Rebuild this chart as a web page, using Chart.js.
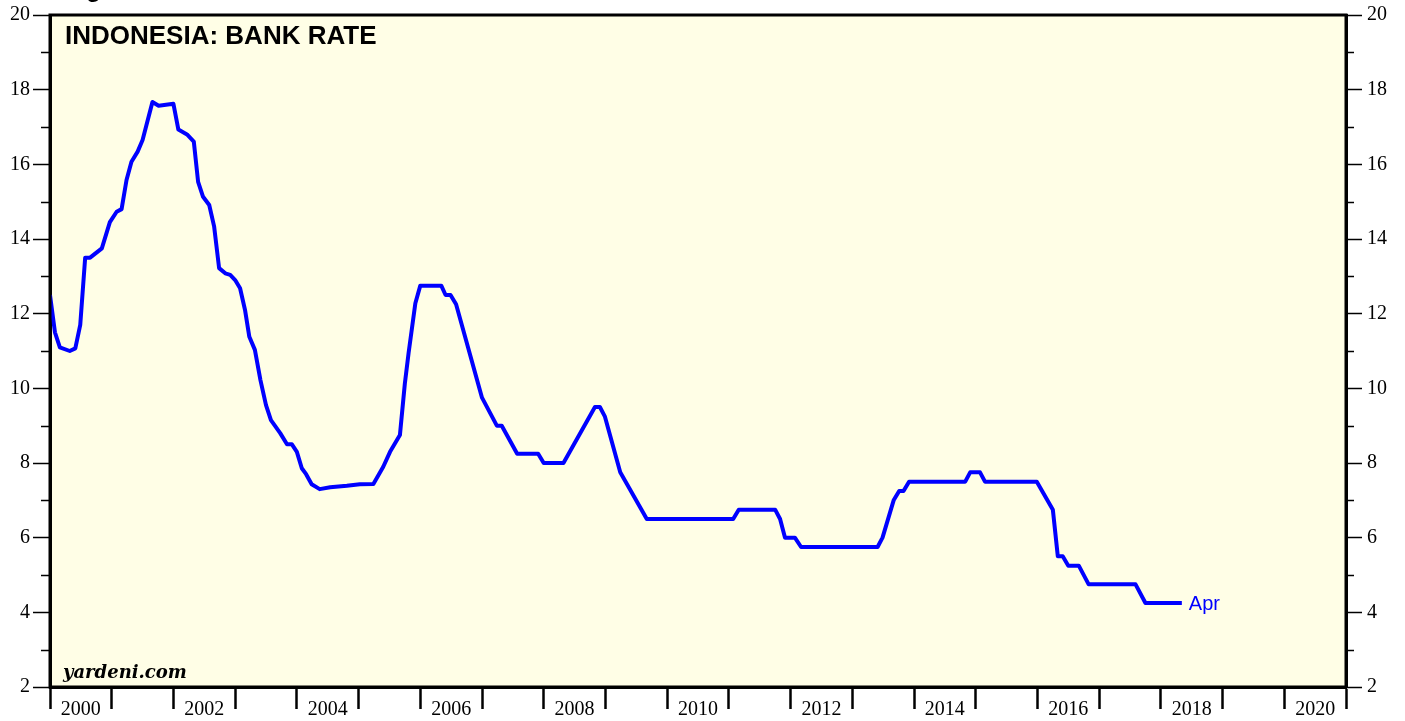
<!DOCTYPE html>
<html lang="en"><head><meta charset="UTF-8">
<title>Indonesia: Bank Rate</title>
<script src="https://cdn.jsdelivr.net/npm/chart.js"></script>
<style>
    html, body {
        margin: 0;
        padding: 0;
        background: #fff;
    }
    #wrap {
        position: relative;
        width: 1405px;
        height: 721px;
    }
</style>
</head>
<body>
<div id="wrap"><canvas id="rateChart"></canvas></div>
<script>
    // bank rate, percent; dates as decimal years
    const dates = [
        2000.00, 2000.08, 2000.16, 2000.32, 2000.41, 2000.49, 2000.57, 2000.65, 2000.84, 2000.97,
        2001.08, 2001.16, 2001.24, 2001.32, 2001.42, 2001.50, 2001.66, 2001.76, 2002.00, 2002.08,
        2002.22, 2002.33, 2002.40, 2002.48, 2002.58, 2002.66, 2002.74, 2002.84, 2002.92, 2003.00,
        2003.08, 2003.16, 2003.23, 2003.32, 2003.41, 2003.50, 2003.58, 2003.73, 2003.84, 2003.92,
        2004.00, 2004.08, 2004.15, 2004.24, 2004.37, 2004.54, 2004.81, 2005.02, 2005.24, 2005.40,
        2005.51, 2005.67, 2005.75, 2005.81, 2005.92, 2006.00, 2006.34, 2006.41, 2006.49, 2006.58,
        2007.00, 2007.24, 2007.32, 2007.57, 2007.91, 2008.00, 2008.32, 2008.83, 2008.91, 2008.99,
        2009.24, 2009.67, 2011.07, 2011.16, 2011.75, 2011.83, 2011.91, 2012.07, 2012.17, 2013.41,
        2013.49, 2013.67, 2013.76, 2013.83, 2013.92, 2014.83, 2014.91, 2015.07, 2015.15, 2015.99,
        2016.25, 2016.33, 2016.41, 2016.50, 2016.67, 2016.83, 2017.59, 2017.75, 2018.34
    ];
    const rates = [
        12.5, 11.5, 11.1, 11.0, 11.07, 11.7, 13.5, 13.5, 13.75, 14.45,
        14.73, 14.8, 15.58, 16.07, 16.34, 16.65, 17.67, 17.57, 17.62, 16.93,
        16.8, 16.61, 15.53, 15.13, 14.91, 14.33, 13.22, 13.08, 13.04, 12.9,
        12.68, 12.1, 11.38, 11.03, 10.22, 9.55, 9.15, 8.8, 8.5, 8.5,
        8.3, 7.86, 7.7, 7.43, 7.3, 7.35, 7.39, 7.43, 7.44, 7.9,
        8.3, 8.75, 10.13, 10.94, 12.28, 12.75, 12.75, 12.5, 12.5, 12.25,
        9.75, 9.0, 9.0, 8.25, 8.25, 8.0, 8.0, 9.5, 9.5, 9.25,
        7.75, 6.5, 6.5, 6.75, 6.75, 6.5, 6.0, 6.0, 5.75, 5.75,
        6.0, 7.0, 7.25, 7.25, 7.5, 7.5, 7.75, 7.75, 7.5, 7.5,
        6.75, 5.5, 5.5, 5.25, 5.25, 4.75, 4.75, 4.25, 4.25
    ];
    const lastMonth = "Apr";
    const chartTitle = "INDONESIA: BANK RATE";
    const pageHeader = "Figure";
    const source = "yardeni.com";

    const xMin = 2000, xMax = 2021;
    const yMin = 2, yMax = 20;
    const yMajor = [];
    for (let v = yMin; v <= yMax; v += 2) yMajor.push(v);
    const yMinor = [];
    for (let v = yMin + 1; v < yMax; v += 2) yMinor.push(v);

    const serif = "'Liberation Serif', 'Times New Roman', serif";

    // every half year: whole years carry a tick mark, even mid-years carry the label
    function halfYearTicks(scale) {
        let t = [];
        for (let v = xMin; v <= xMax; v += 0.5) t.push({value: v});
        scale.ticks = t;
    }
    function yTicks(scale) {
        scale.ticks = yMajor.map(v => ({value: v}));
    }
    // fixed side widths, and no extra room for the end labels
    function fitSide(w) {
        return s => {
            s.width = w;
            s.paddingTop = 0;
            s.paddingBottom = 0;
        };
    }

    const framePlugin = {
        id: "frame",
        beforeDraw(chart) {
            const {ctx, chartArea: a} = chart;
            ctx.save();
            ctx.fillStyle = "#fffee6";
            ctx.fillRect(a.left, a.top, a.right - a.left, a.bottom - a.top);
            // header line sitting above the plot, mostly off the page
            ctx.fillStyle = "#000";
            ctx.font = "bold 24px 'Liberation Sans', Arial, sans-serif";
            ctx.fillText(pageHeader, 65, -3);
            ctx.restore();
        },
        afterDatasetsDraw(chart) {
            const {ctx, chartArea: a} = chart;
            const yl = chart.scales.y;
            ctx.save();
            // minor ticks on both sides
            ctx.strokeStyle = "#000";
            ctx.lineWidth = 1.5;
            yMinor.forEach(v => {
                let py = Math.round(yl.getPixelForValue(v)) + 0.5;
                ctx.beginPath();
                ctx.moveTo(a.left - 9, py); ctx.lineTo(a.left, py);
                ctx.moveTo(a.right, py); ctx.lineTo(a.right + 8, py);
                ctx.stroke();
            });
            // box
            ctx.lineWidth = 3;
            ctx.strokeRect(a.left, a.top, a.right - a.left, a.bottom - a.top);

            ctx.fillStyle = "#000";
            ctx.textBaseline = "alphabetic";
            ctx.font = "bold 26px 'Liberation Sans', Arial, sans-serif";
            ctx.fillText(chartTitle, a.left + 15, a.top + 29);
            ctx.font = "italic bold 18px 'DejaVu Serif', serif";
            ctx.fillText(source, a.left + 13, a.bottom - 9);

            // month tag at the end of the line
            const meta = chart.getDatasetMeta(0);
            const last = meta.data[meta.data.length - 1];
            ctx.fillStyle = "#0000ff";
            ctx.font = "20px 'Liberation Sans', Arial, sans-serif";
            ctx.textBaseline = "middle";
            ctx.fillText(lastMonth, last.x + 7, last.y + 1);
            ctx.restore();
        }
    };

    new Chart(document.getElementById("rateChart"), {
        type: "line",
        data: {
            datasets: [{
                data: dates.map((d, i) => ({x: d, y: rates[i]})),
                borderColor: "#0000ff",
                borderWidth: 4,
                borderJoinStyle: "round",
                pointRadius: 0,
                tension: 0,
                fill: false
            }]
        },
        options: {
            responsive: true,
            maintainAspectRatio: false,
            animation: false,
            layout: {padding: {top: 15, left: 0, right: 0, bottom: 0}},
            plugins: {legend: {display: false}, tooltip: {enabled: false}},
            scales: {
                x: {
                    type: "linear",
                    min: xMin, max: xMax,
                    position: "bottom",
                    afterBuildTicks: halfYearTicks,
                    afterFit: s => { s.height = 34; s.paddingLeft = 0; s.paddingRight = 0; },
                    border: {display: true, color: "#000", width: 3},
                    grid: {
                        drawOnChartArea: false,
                        drawTicks: true,
                        tickLength: 22,
                        tickWidth: 2.5,
                        tickColor: c => Number.isInteger(c.tick.value) ? "#000" : "rgba(0,0,0,0)"
                    },
                    ticks: {
                        autoSkip: false,
                        maxRotation: 0,
                        padding: -11,
                        color: "#000",
                        font: {family: serif, size: 20},
                        callback: v => (v % 2 === 0.5) ? String(v - 0.5) : ""
                    }
                },
                y: {
                    type: "linear",
                    min: yMin, max: yMax,
                    position: "left",
                    afterBuildTicks: yTicks,
                    afterFit: fitSide(50),
                    border: {display: true, color: "#000", width: 3},
                    grid: {drawOnChartArea: false, tickLength: 17, tickWidth: 1.5, tickColor: "#000"},
                    ticks: {padding: 3, color: "#000", font: {family: serif, size: 20}}
                },
                y2: {
                    type: "linear",
                    min: yMin, max: yMax,
                    position: "right",
                    afterBuildTicks: yTicks,
                    afterFit: fitSide(59),
                    border: {display: true, color: "#000", width: 3},
                    grid: {drawOnChartArea: false, tickLength: 16, tickWidth: 1.5, tickColor: "#000"},
                    ticks: {padding: 5, color: "#000", font: {family: serif, size: 20}}
                }
            }
        },
        plugins: [framePlugin]
    });
</script>
</body>
</html>
